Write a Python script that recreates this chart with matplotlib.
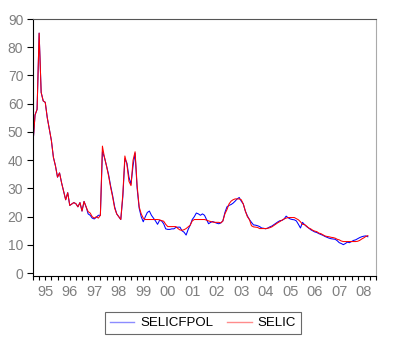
import numpy as np
import matplotlib
matplotlib.use("Agg")
import matplotlib.pyplot as plt
from matplotlib.ticker import FixedLocator, FixedFormatter, NullFormatter

start_year = 1995
selic = [
    # 1995
    46, 56, 58, 85, 64, 61, 60.5, 55, 51, 47, 41, 38,
    # 1996
    34, 35.5, 32, 29, 26, 28.5, 24, 24.5, 25, 24.6, 23.5, 25,
    # 1997
    22, 25.4, 23.5, 21.8, 21.3, 20, 19.5, 20, 19.5, 20.5, 45, 41,
    # 1998
    38, 34.5, 30.5, 27, 23, 21, 20, 19, 28, 41.5, 38.5, 32.5,
    # 1999
    31, 40, 43, 31, 23.5, 21, 19.5, 19, 19, 19, 19, 19,
    # 2000
    19, 19, 18.9, 18.6, 18.4, 17.3, 16.5, 16.5, 16.5, 16.5, 16.5, 15.8,
    # 2001
    15.3, 15.2, 15.4, 15.8, 16.4, 17, 18.5, 19, 19, 19, 19, 19,
    # 2002
    19, 18.8, 18.5, 18.3, 18.1, 18, 18, 18, 17.8, 18.5, 21, 22.5,
    # 2003
    24.5, 25.5, 26, 26.3, 26.3, 26.3, 26, 24.5, 22, 20, 19, 16.8,
    # 2004
    16.4, 16.3, 16.2, 15.8, 15.8, 15.8, 15.8, 15.9, 16.1, 16.4, 16.9, 17.4,
    # 2005
    17.9, 18.3, 18.8, 19.2, 19.5, 19.7, 19.7, 19.7, 19.7, 19.3, 18.9, 18.2,
    # 2006
    17.3, 17.2, 16.7, 16.0, 15.7, 15.2, 14.9, 14.7, 14.2, 14.0, 13.6, 13.2,
    # 2007
    13.0, 12.9, 12.7, 12.6, 12.4, 12.0, 11.8, 11.4, 11.2, 11.2, 11.2, 11.2,
    # 2008
    11.2, 11.2, 11.2, 11.3, 11.6, 12.1, 12.5, 13.0, 13.3,
]

selicfpol = [
    # 1995
    46, 56, 58, 85, 64, 61, 60.5, 55, 51, 47, 41, 38,
    # 1996
    34, 35.5, 32, 29, 26, 28.5, 24, 24.5, 25, 24.6, 23.5, 25,
    # 1997
    22, 25.4, 23.5, 21.0, 20.5, 19.5, 19.2, 19.8, 20.5, 20.5, 43, 41,
    # 1998
    38, 35, 31, 27.5, 23.5, 21, 20, 19, 27, 40.5, 39, 34,
    # 1999
    31.5, 38, 42.5, 30, 23, 20, 18.2, 20, 21.5, 22, 20.5, 19.5,
    # 2000
    18.5, 17.3, 18.7, 18.5, 17.5, 15.7, 15.5, 15.5, 15.7, 15.7, 16.2, 16.3,
    # 2001
    16.3, 15.0, 14.5, 13.5, 15.5, 17, 19, 20, 21.3, 21, 20.5, 21,
    # 2002
    20.5, 19, 17.5, 18, 18.3, 18, 17.7, 17.5, 17.8, 18.5, 21.5, 23.5,
    # 2003
    24.0, 24.3, 24.8, 25.5, 26.3, 26.8, 25.5, 24.5, 22, 20.3, 19, 18,
    # 2004
    17.1, 17.0, 16.8, 16.5, 16.0, 15.9, 15.7, 16, 16.4, 16.7, 17.2, 17.7,
    # 2005
    18.2, 18.6, 18.7, 19.2, 20.2, 19.6, 19.2, 19.0, 18.9, 18.5, 17.3, 16.0,
    # 2006
    18.0, 17.2, 16.5, 16.0, 15.4, 15.0, 14.6, 14.4, 14.0, 13.7, 13.4, 13.0,
    # 2007
    12.7, 12.4, 12.2, 12.1, 12.0, 11.5, 10.8, 10.5, 10.1, 10.5, 11.0, 10.8,
    # 2008
    11.2, 11.6, 11.8, 12.2, 12.6, 12.9, 13.1, 13.2, 12.9,
]

year_labels = ["95", "96", "97", "98", "99", "00", "01", "02", "03", "04", "05", "06", "07", "08"]
y_ticks = [0, 10, 20, 30, 40, 50, 60, 70, 80, 90]

t_red = start_year + np.arange(len(selic)) / 12.0
t_blue = start_year + np.arange(len(selicfpol)) / 12.0

fig = plt.figure(figsize=(4.0, 3.47), dpi=100)
ax = fig.add_axes([0.0825, 0.2046, 0.8575, 0.7406])

ax.plot(t_blue, selicfpol, color="#0000ff", lw=0.75, label="SELICFPOL")
ax.plot(t_red, selic, color="#ff0000", lw=0.75, label="SELIC")

ax.set_xlim(1995, 2009)
ax.set_ylim(-1, 90)

ax.set_yticks(y_ticks)
ax.set_yticklabels([str(v) for v in y_ticks])

# Major: year labels at mid-year (no tick marks); minor: quarterly tick marks
mid_years = [start_year + 0.5 + i for i in range(len(year_labels))]
ax.xaxis.set_major_locator(FixedLocator(mid_years))
ax.xaxis.set_major_formatter(FixedFormatter(year_labels))
quarters = list(np.arange(1995, 2009.01, 0.25))
ax.xaxis.set_minor_locator(FixedLocator(quarters))
ax.xaxis.set_minor_formatter(NullFormatter())
ax.xaxis.remove_overlapping_locs = False

ax.tick_params(axis="x", which="minor", length=3, width=0.8, direction="out", color="black")
ax.tick_params(axis="x", which="major", length=0, pad=6.5)
ax.tick_params(axis="y", length=4, width=0.8, direction="out", color="black", pad=3)
for lab in ax.get_xticklabels():
    lab.set_fontfamily("Liberation Sans")
    lab.set_fontsize(10.5)
    lab.set_color("#7f7f7f")
for lab in ax.get_yticklabels():
    lab.set_fontfamily("Liberation Sans")
    lab.set_fontsize(10)
    lab.set_color("#7f7f7f")

ax.spines["left"].set_color("black")
ax.spines["bottom"].set_color("black")
ax.spines["top"].set_color("#555555")
ax.spines["right"].set_color("#aaaaaa")
for s in ax.spines.values():
    s.set_linewidth(0.8)

leg = fig.legend(loc="center", bbox_to_anchor=(0.5075, 0.069), ncol=2, frameon=True,
                 fancybox=False, handlelength=1.85, columnspacing=1.05, handletextpad=0.45,
                 borderpad=0.4, prop={"family": "Liberation Sans", "size": 9.5})
leg.get_frame().set_edgecolor("#444444")
leg.get_frame().set_linewidth(0.8)
for h in leg.get_lines():
    h.set_alpha(0.45)
    h.set_linewidth(1.0)

fig.savefig("out.png", dpi=100)
